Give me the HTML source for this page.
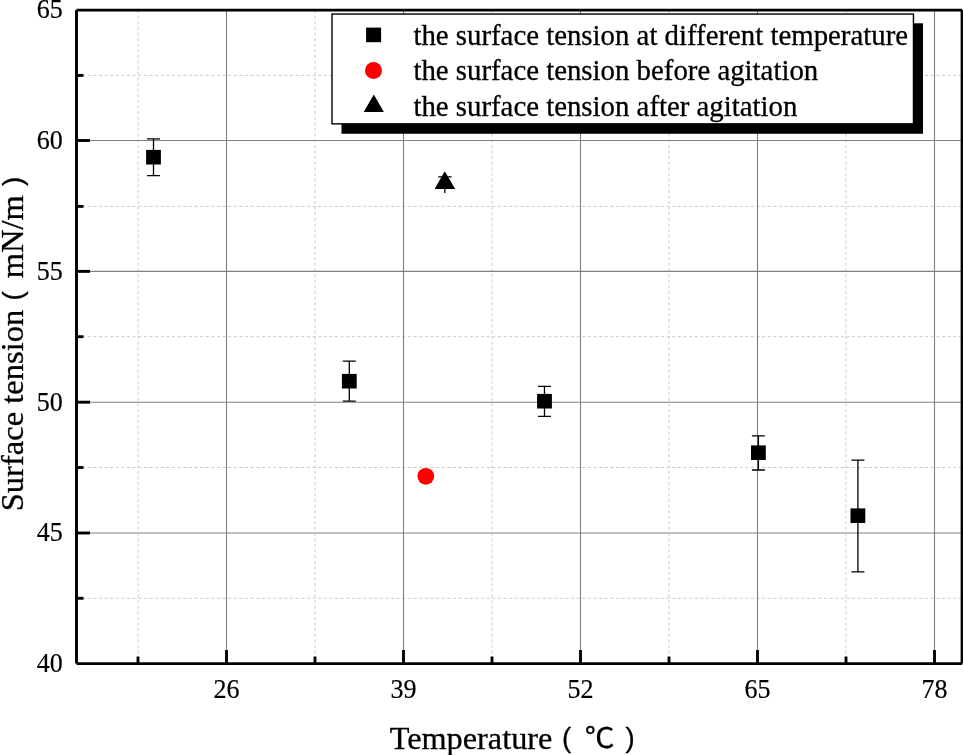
<!DOCTYPE html>
<html><head><meta charset="utf-8"><title>Surface tension vs temperature</title>
<style>html,body{margin:0;padding:0;background:#fff}svg{display:block}text{font-family:"Liberation Serif","Noto Sans CJK SC",serif;fill:#000;stroke:#000;stroke-width:.3px;stroke-linejoin:round}.cj{font-family:"Noto Sans CJK SC","Liberation Sans",sans-serif}.sn{font-family:"Liberation Sans",sans-serif}.tk text{stroke-width:.2px}</style></head>
<body>
<svg width="963" height="755" viewBox="0 0 963 755">
<rect width="963" height="755" fill="#fff"/>
<g stroke="#c9c9c9" stroke-width="1" stroke-dasharray="3 2.62" fill="none">
<line x1="138.0" y1="10.0" x2="138.0" y2="663.55"/>
<line x1="315.0" y1="10.0" x2="315.0" y2="663.55"/>
<line x1="492.0" y1="10.0" x2="492.0" y2="663.55"/>
<line x1="669.0" y1="10.0" x2="669.0" y2="663.55"/>
<line x1="846.0" y1="10.0" x2="846.0" y2="663.55"/>
<line x1="76.5" y1="75.4" x2="962.1" y2="75.4"/>
<line x1="76.5" y1="206.4" x2="962.1" y2="206.4"/>
<line x1="76.5" y1="336.7" x2="962.1" y2="336.7"/>
<line x1="76.5" y1="467.5" x2="962.1" y2="467.5"/>
<line x1="76.5" y1="598.3" x2="962.1" y2="598.3"/>
</g>
<g stroke="#808080" stroke-width="1.1" fill="none">
<line x1="226.5" y1="10.0" x2="226.5" y2="663.55"/>
<line x1="403.5" y1="10.0" x2="403.5" y2="663.55"/>
<line x1="580.5" y1="10.0" x2="580.5" y2="663.55"/>
<line x1="757.5" y1="10.0" x2="757.5" y2="663.55"/>
<line x1="934.5" y1="10.0" x2="934.5" y2="663.55"/>
<line x1="76.5" y1="140.5" x2="962.1" y2="140.5"/>
<line x1="76.5" y1="271.4" x2="962.1" y2="271.4"/>
<line x1="76.5" y1="402.2" x2="962.1" y2="402.2"/>
<line x1="76.5" y1="533.0" x2="962.1" y2="533.0"/>
</g>
<path d="M76.5 10.0H962.1M962.1 663.55H76.5" fill="none" stroke="#000" stroke-width="2.75"/>
<path d="M962.1 10.0V663.55M76.5 663.55V10.0" fill="none" stroke="#000" stroke-width="2.95"/>
<g stroke="#000" stroke-width="2.9" fill="none">
<line x1="226.5" y1="663.55" x2="226.5" y2="650.05"/>
<line x1="403.5" y1="663.55" x2="403.5" y2="650.05"/>
<line x1="580.5" y1="663.55" x2="580.5" y2="650.05"/>
<line x1="757.5" y1="663.55" x2="757.5" y2="650.05"/>
<line x1="934.5" y1="663.55" x2="934.5" y2="650.05"/>
<line x1="138.0" y1="663.55" x2="138.0" y2="656.55"/>
<line x1="315.0" y1="663.55" x2="315.0" y2="656.55"/>
<line x1="492.0" y1="663.55" x2="492.0" y2="656.55"/>
<line x1="669.0" y1="663.55" x2="669.0" y2="656.55"/>
<line x1="846.0" y1="663.55" x2="846.0" y2="656.55"/>
<line x1="76.5" y1="140.5" x2="90.0" y2="140.5"/>
<line x1="76.5" y1="271.4" x2="90.0" y2="271.4"/>
<line x1="76.5" y1="402.2" x2="90.0" y2="402.2"/>
<line x1="76.5" y1="533.0" x2="90.0" y2="533.0"/>
<line x1="76.5" y1="75.4" x2="83.5" y2="75.4"/>
<line x1="76.5" y1="206.4" x2="83.5" y2="206.4"/>
<line x1="76.5" y1="336.7" x2="83.5" y2="336.7"/>
<line x1="76.5" y1="467.5" x2="83.5" y2="467.5"/>
<line x1="76.5" y1="598.3" x2="83.5" y2="598.3"/>
</g>
<g class="tk" font-size="26" text-anchor="middle">
<text transform="translate(226.5 698) scale(1 1.06)">26</text>
<text transform="translate(403.5 698) scale(1 1.06)">39</text>
<text transform="translate(580.5 698) scale(1 1.06)">52</text>
<text transform="translate(757.5 698) scale(1 1.06)">65</text>
<text transform="translate(934.5 698) scale(1 1.06)">78</text>
</g>
<g class="tk" font-size="26" text-anchor="end">
<text transform="translate(62.8 18.1) scale(1 1.06)">65</text>
<text transform="translate(62.8 148.9) scale(1 1.06)">60</text>
<text transform="translate(62.8 279.8) scale(1 1.06)">55</text>
<text transform="translate(62.8 410.6) scale(1 1.06)">50</text>
<text transform="translate(62.8 541.4) scale(1 1.06)">45</text>
<text transform="translate(62.8 672.2) scale(1 1.06)">40</text>
</g>
<g stroke="#000" stroke-width="1.3" fill="none">
<path d="M153.5 138.9V175.6M147.0 138.9H160.0M147.0 175.6H160.0"/>
<path d="M349.3 361.1V401.1M342.8 361.1H355.8M342.8 401.1H355.8"/>
<path d="M544.5 386.3V416.4M538.0 386.3H551.0M538.0 416.4H551.0"/>
<path d="M758.4 435.8V470.0M751.9 435.8H764.9M751.9 470.0H764.9"/>
<path d="M857.9 460.1V571.8M851.4 460.1H864.4M851.4 571.8H864.4"/>
<path d="M444.8 176.9V193M438.2 176.9H451.7"/>
</g>
<rect x="146.1" y="149.9" width="14.8" height="14.6" fill="#000"/>
<rect x="341.9" y="373.9" width="14.8" height="14.6" fill="#000"/>
<rect x="537.1" y="393.9" width="14.8" height="14.6" fill="#000"/>
<rect x="751.0" y="445.4" width="14.8" height="14.6" fill="#000"/>
<rect x="850.5" y="508.4" width="14.8" height="14.6" fill="#000"/>
<circle cx="425.8" cy="476.3" r="8.4" fill="#f00"/>
<polygon points="444.8,171.3 455.2,188.9 434.6,188.9" fill="#000"/>
<rect x="341.5" y="23.3" width="581.5" height="110.45" fill="#000"/>
<rect x="332" y="14.05" width="581.45" height="109.8" fill="#fff" stroke="#000" stroke-width="1.4"/>
<rect x="366.1" y="27.6" width="15" height="14.6" fill="#000"/>
<circle cx="373.5" cy="70.5" r="8.5" fill="#f00"/>
<polygon points="373.8,94.6 383.9,112 363.7,112" fill="#000"/>
<g font-size="28.82">
<text x="413.4" y="44.7">the surface tension at different temperature</text>
<text x="413.4" y="80.4">the surface tension before agitation</text>
<text x="413.4" y="115.7">the surface tension after agitation</text>
</g>
<g font-size="32.3">
<text x="389.7" y="748.5">Temperature</text>
<text class="sn" font-size="27.6" x="561.9" y="747.2">(</text>
<text class="cj" font-size="28.3" transform="translate(584.7 747.6) scale(1.05 1)">℃</text>
<text class="sn" font-size="27.6" x="625.6" y="747.2">)</text>
</g>
<g transform="translate(23 511.3) rotate(-90)" font-size="32.55">
<text x="0" y="0">Surface tension</text>
<text class="sn" font-size="27.6" x="210.9" y="-1">(</text>
<text x="233" y="0">mN/m</text>
<text class="sn" font-size="27.6" x="325.3" y="-1">)</text>
</g>
</svg>
</body></html>
